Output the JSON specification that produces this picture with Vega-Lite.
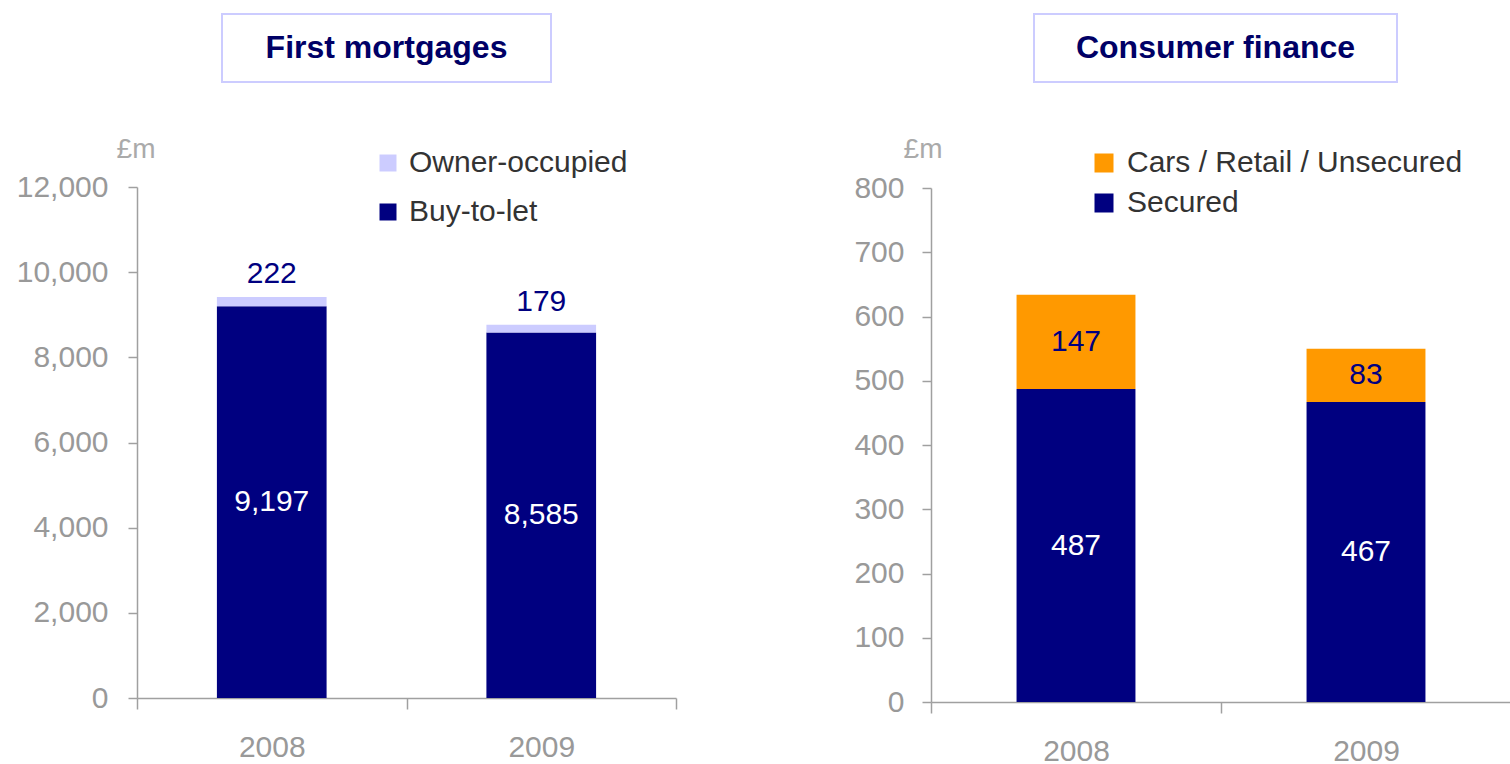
{
  "$schema": "https://vega.github.io/schema/vega-lite/v6.json",
  "padding": {"left": 16, "top": 13, "right": 0, "bottom": 0},
  "background": "white",
  "config": {
    "view": {"stroke": null},
    "font": "Liberation Sans",
    "axis": {"grid": false, "domainColor": "#a0a0a0", "tickColor": "#a0a0a0", "domainWidth": 1.5, "tickWidth": 1.5, "labelColor": "#999999", "labelFont": "Liberation Sans", "labelFontSize": 30, "titleFont": "Liberation Sans", "titleColor": "#aaaaaa", "titleFontWeight": "normal", "titleFontSize": 28},
    "legend": {"labelFont": "Liberation Sans", "labelFontSize": 30, "labelColor": "#333333", "symbolType": "square", "symbolStrokeWidth": 0, "labelLimit": 500}
  },
  "resolve": {"scale": {"color": "independent", "y": "independent", "x": "independent"}, "legend": {"color": "independent"}},
  "spacing": 176,
  "hconcat": [
    {
      "spacing": 52,
      "vconcat": [
        {
          "spacing": 0,
          "hconcat": [
            {"width": 84, "height": 68, "data": {"values": []}, "mark": "text", "encoding": {}},
            {"width": 329, "height": 68, "view": {"stroke": "#ccccff", "strokeWidth": 2}, "data": {"values": [{"t": "First mortgages"}]}, "mark": {"type": "text", "font": "Liberation Sans", "fontWeight": "bold", "fontSize": 32, "color": "#000066", "baseline": "middle"}, "encoding": {"text": {"field": "t"}}}
          ]
        },
        {
          "width": 539,
          "height": 511,
          "data": {"values": [
            {"year": "2008", "segment": "Buy-to-let", "value": 9197},
            {"year": "2008", "segment": "Owner-occupied", "value": 222},
            {"year": "2009", "segment": "Buy-to-let", "value": 8585},
            {"year": "2009", "segment": "Owner-occupied", "value": 179}
          ]},
          "transform": [{"stack": "value", "groupby": ["year"], "sort": [{"field": "segment", "order": "ascending"}], "as": ["v0", "v1"]}],
          "encoding": {
            "x": {"field": "year", "type": "nominal", "scale": {"paddingInner": 0, "paddingOuter": 0}, "axis": {"title": null, "labelAngle": 0, "tickBand": "extent", "tickSize": 11, "labelPadding": 23}}
          },
          "layer": [
            {
              "mark": {"type": "bar", "width": {"band": 0.407}},
              "encoding": {
                "y": {"field": "v1", "type": "quantitative", "scale": {"domain": [0, 12000]}, "axis": {"values": [0, 2000, 4000, 6000, 8000, 10000, 12000], "format": ",d", "tickSize": 9, "labelPadding": 20, "title": "£m", "titleAngle": 0, "titleAlign": "right", "titleBaseline": "middle", "titleX": 18, "titleY": -38}},
                "y2": {"field": "v0"},
                "color": {"field": "segment", "type": "nominal", "scale": {"domain": ["Owner-occupied", "Buy-to-let"], "range": ["#ccccff", "#000080"]}, "legend": {"title": null, "orient": "none", "legendX": 236, "legendY": 134, "symbolSize": 289, "rowPadding": 19, "labelOffset": 6}}
              }
            },
            {
              "transform": [{"filter": "datum.segment === 'Buy-to-let'"}, {"fold": ["v0", "v1"], "as": ["k", "edge"]}, {"aggregate": [{"op": "mean", "field": "edge", "as": "mid"}], "groupby": ["year", "value"]}],
              "mark": {"type": "text", "color": "white", "fontSize": 30, "baseline": "middle"},
              "encoding": {"y": {"field": "mid", "type": "quantitative", "axis": {"values": [0, 2000, 4000, 6000, 8000, 10000, 12000], "format": ",d", "tickSize": 9, "labelPadding": 20, "title": "£m", "titleAngle": 0, "titleAlign": "right", "titleBaseline": "middle", "titleX": 18, "titleY": -38}}, "text": {"field": "value", "type": "quantitative", "format": ","}}
            },
            {
              "transform": [{"filter": "datum.segment === 'Owner-occupied'"}],
              "mark": {"type": "text", "color": "#000080", "fontSize": 30, "baseline": "alphabetic", "dy": -14},
              "encoding": {"y": {"field": "v1", "type": "quantitative", "axis": {"values": [0, 2000, 4000, 6000, 8000, 10000, 12000], "format": ",d", "tickSize": 9, "labelPadding": 20, "title": "£m", "titleAngle": 0, "titleAlign": "right", "titleBaseline": "middle", "titleX": 18, "titleY": -38}}, "text": {"field": "value", "type": "quantitative", "format": ","}}
            }
          ]
        }
      ]
    },
    {
      "spacing": 52,
      "vconcat": [
        {
          "spacing": 0,
          "hconcat": [
            {"width": 102, "height": 68, "data": {"values": []}, "mark": "text", "encoding": {}},
            {"width": 363, "height": 68, "view": {"stroke": "#ccccff", "strokeWidth": 2}, "data": {"values": [{"t": "Consumer finance"}]}, "mark": {"type": "text", "font": "Liberation Sans", "fontWeight": "bold", "fontSize": 32, "color": "#000066", "baseline": "middle"}, "encoding": {"text": {"field": "t"}}}
          ]
        },
        {
          "width": 580,
          "height": 514,
          "data": {"values": [
            {"year": "2008", "segment": "Secured", "value": 487},
            {"year": "2008", "segment": "Cars / Retail / Unsecured", "value": 147},
            {"year": "2009", "segment": "Secured", "value": 467},
            {"year": "2009", "segment": "Cars / Retail / Unsecured", "value": 83}
          ]},
          "transform": [{"stack": "value", "groupby": ["year"], "sort": [{"field": "segment", "order": "descending"}], "as": ["v0", "v1"]}],
          "encoding": {
            "x": {"field": "year", "type": "nominal", "scale": {"paddingInner": 0, "paddingOuter": 0}, "axis": {"title": null, "labelAngle": 0, "tickBand": "extent", "tickSize": 11, "labelPadding": 23}}
          },
          "layer": [
            {
              "mark": {"type": "bar", "width": {"band": 0.41}},
              "encoding": {
                "y": {"field": "v1", "type": "quantitative", "scale": {"domain": [0, 800]}, "axis": {"values": [0, 100, 200, 300, 400, 500, 600, 700, 800], "tickSize": 9, "labelPadding": 18, "title": "£m", "titleAngle": 0, "titleAlign": "right", "titleBaseline": "middle", "titleX": 11, "titleY": -39}},
                "y2": {"field": "v0"},
                "color": {"field": "segment", "type": "nominal", "scale": {"domain": ["Cars / Retail / Unsecured", "Secured"], "range": ["#ff9900", "#000080"]}, "legend": {"title": null, "orient": "none", "legendX": 158, "legendY": 134, "symbolSize": 361, "rowPadding": 10, "labelOffset": 8}}
              }
            },
            {
              "transform": [{"fold": ["v0", "v1"], "as": ["k", "edge"]}, {"aggregate": [{"op": "mean", "field": "edge", "as": "mid"}], "groupby": ["year", "segment", "value"]}],
              "mark": {"type": "text", "fontSize": 30, "baseline": "middle"},
              "encoding": {
                "y": {"field": "mid", "type": "quantitative", "axis": {"values": [0, 100, 200, 300, 400, 500, 600, 700, 800], "tickSize": 9, "labelPadding": 18, "title": "£m", "titleAngle": 0, "titleAlign": "right", "titleBaseline": "middle", "titleX": 11, "titleY": -39}},
                "text": {"field": "value", "type": "quantitative", "format": ","},
                "color": {"condition": {"test": "datum.segment === 'Secured'", "value": "white"}, "value": "#000080"}
              }
            }
          ]
        }
      ]
    }
  ]
}
